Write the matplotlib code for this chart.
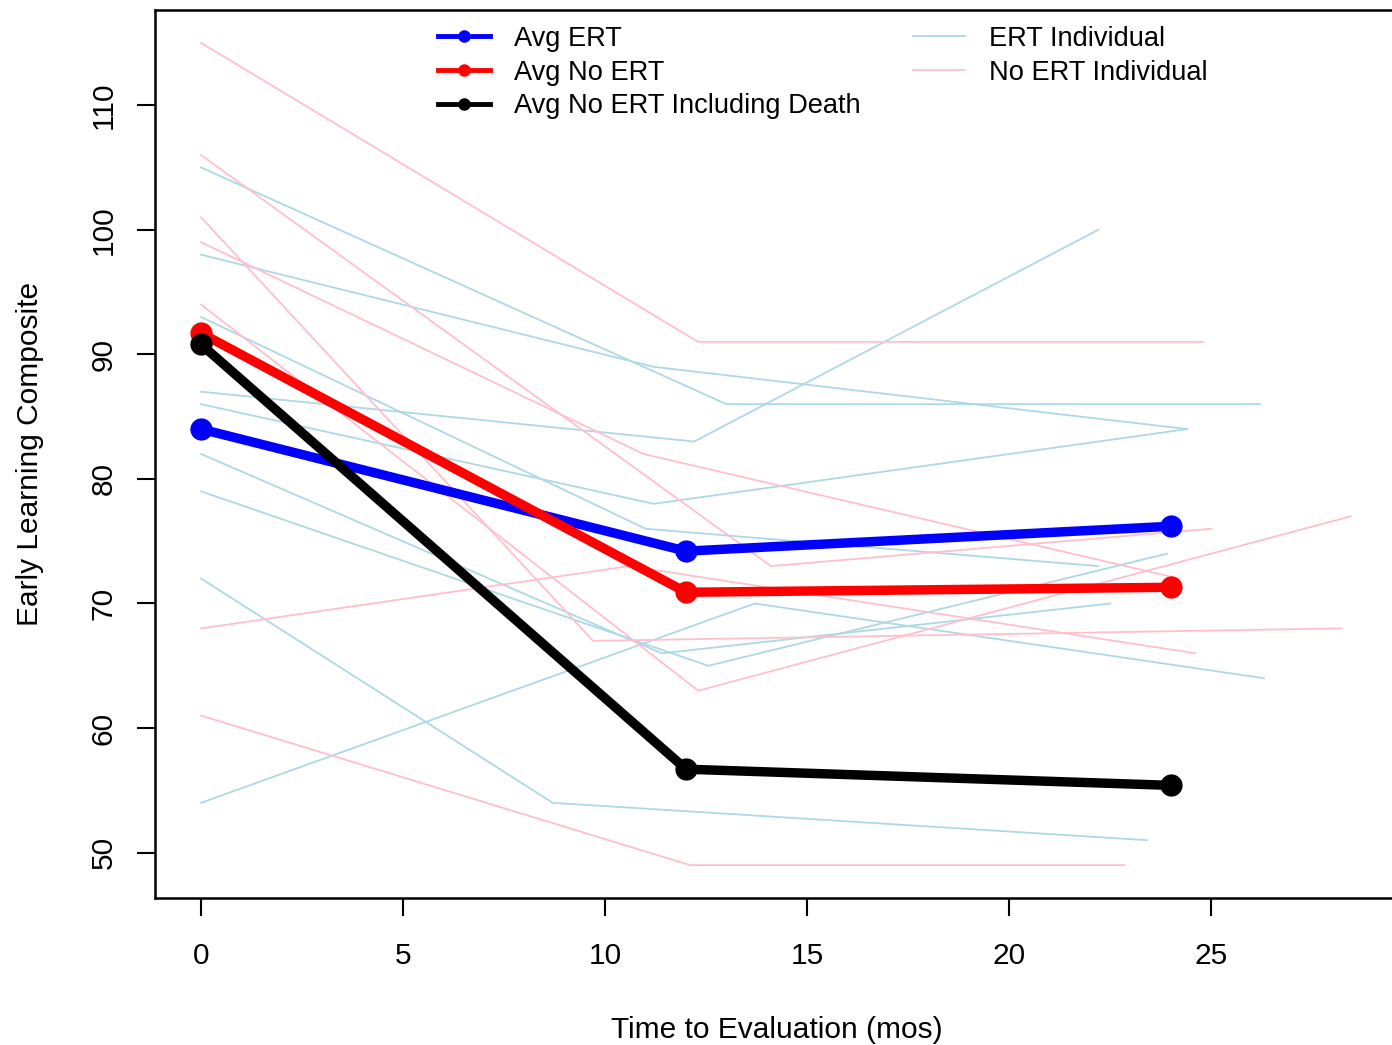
import matplotlib
matplotlib.use("Agg")
import matplotlib.pyplot as plt
from matplotlib.lines import Line2D

plt.rcParams['font.family'] = ['Liberation Sans', 'DejaVu Sans']

# Individual patients on ERT (time in months, score)
ert_times = [[0, 13.0, 26.2], [0, 11.2, 24.4], [0, 11.0, 22.2], [0, 12.2, 22.2],
             [0, 11.2, 24.4], [0, 11.4, 22.5], [0, 12.55, 23.9], [0, 8.7, 23.4],
             [0, 13.7, 26.3]]
ert_scores = [[105, 86, 86], [98, 89, 84], [93, 76, 73], [87, 83, 100],
              [86, 78, 84], [82, 66, 70], [79, 65, 74], [72, 54, 51],
              [54, 70, 64]]

# Individual patients without ERT
noert_times = [[0, 12.3, 24.8], [0, 14.1, 25.0], [0, 9.7, 28.2], [0, 10.95, 24.2],
               [0, 12.3, 28.45], [0, 10.6, 24.6], [0, 12.1, 22.85]]
noert_scores = [[115, 91, 91], [106, 73, 76], [101, 67, 68], [99, 82, 72],
                [94, 63, 77], [68, 73, 66], [61, 49, 49]]

# Group averages
avg_times = [0, 12, 24]
avg_ert = [84.0, 74.2, 76.2]
avg_noert = [91.7, 70.9, 71.3]
avg_noert_death = [90.8, 56.7, 55.4]

fig = plt.figure(figsize=(13.92, 10.45), dpi=100)
ax = fig.add_axes([155 / 1392, 1 - 898 / 1045, (1399 - 155) / 1392, (898 - 10) / 1045])

for t, s in zip(ert_times, ert_scores):
    ax.plot(t, s, color='#ADD8E6', lw=1.3)
for t, s in zip(noert_times, noert_scores):
    ax.plot(t, s, color='#FFC0CB', lw=1.3)

ax.plot(avg_times, avg_ert, color='#0000FF', lw=6.8, marker='o', ms=15)
ax.plot(avg_times, avg_noert, color='#FF0000', lw=6.8, marker='o', ms=15)
ax.plot(avg_times, avg_noert_death, color='black', lw=6.8, marker='o', ms=15)

ax.set_xlim(-1.14, 29.64)
ax.set_ylim(46.36, 117.64)
ax.set_xticks([0, 5, 10, 15, 20, 25])
ax.set_yticks([50, 60, 70, 80, 90, 100, 110])
ax.tick_params(axis='both', direction='out', length=13, width=1.5, labelsize=21.5)
ax.tick_params(axis='x', pad=19)
ax.tick_params(axis='y', pad=14)
for lab in ax.get_yticklabels():
    lab.set_rotation(90)
    lab.set_va('center')
for sp in ax.spines.values():
    sp.set_linewidth(1.8)

ax.set_xlabel("Time to Evaluation (mos)", fontsize=21.5, labelpad=33)
ax.set_ylabel("Early Learning Composite", fontsize=21.5, labelpad=33)

# legends, two blocks without frame
h1 = [Line2D([], [], color='#0000FF', lw=3.5, marker='o', ms=8),
      Line2D([], [], color='#FF0000', lw=3.5, marker='o', ms=8),
      Line2D([], [], color='black', lw=3.5, marker='o', ms=8)]
fig.legend(h1, ["Avg ERT", "Avg No ERT", "Avg No ERT Including Death"],
           loc='upper left', bbox_to_anchor=(438 / 1392, 1 - 26 / 1045),
           frameon=False, fontsize=19.6, borderpad=0, borderaxespad=0,
           handlelength=1.9, handletextpad=0.9, labelspacing=0.28)
h2 = [Line2D([], [], color='#ADD8E6', lw=1.3),
      Line2D([], [], color='#FFC0CB', lw=1.3)]
fig.legend(h2, ["ERT Individual", "No ERT Individual"],
           loc='upper left', bbox_to_anchor=(913 / 1392, 1 - 26 / 1045),
           frameon=False, fontsize=19.6, borderpad=0, borderaxespad=0,
           handlelength=1.9, handletextpad=0.9, labelspacing=0.28)

fig.savefig("out.png", dpi=100)
